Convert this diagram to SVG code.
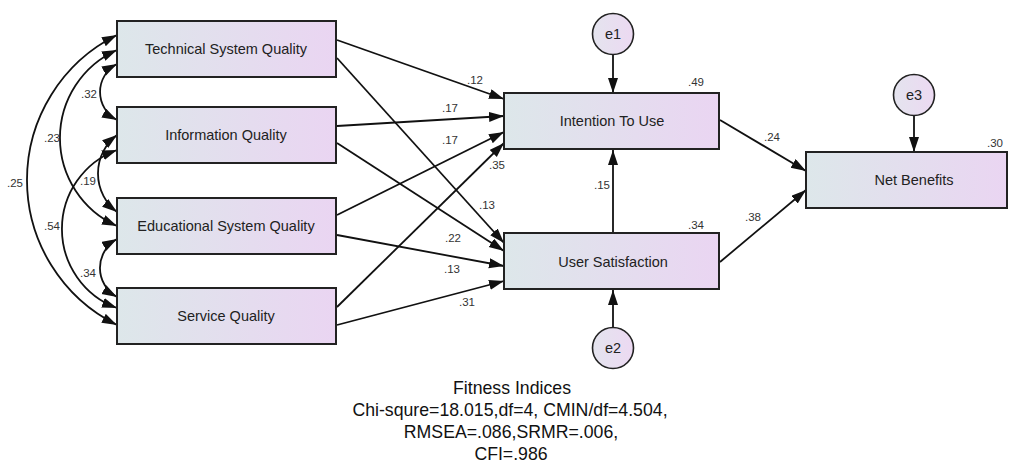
<svg xmlns="http://www.w3.org/2000/svg" width="1011" height="462" viewBox="0 0 1011 462">
  <style>
    .box { stroke: #222; stroke-width: 2; fill: url(#boxFill); }
    .err { stroke: #222; stroke-width: 1.6; fill: url(#errFill); }
    .lbl { font-family: "Liberation Sans", Arial, sans-serif; font-size: 14.5px; fill: #222; text-anchor: middle; }
    .num { font-family: "Liberation Sans", Arial, sans-serif; font-size: 11.5px; fill: #333; text-anchor: middle; }
    .fit { font-family: "Liberation Sans", Arial, sans-serif; font-size: 17.7px; fill: #111; text-anchor: middle; }
    .path { stroke: #111; stroke-width: 1.8; fill: none; marker-end: url(#head); }
    .cov { stroke: #111; stroke-width: 1.8; fill: none; marker-start: url(#head); marker-end: url(#head); }
  </style>
  <defs>
    <linearGradient id="boxFill" x1="0" y1="0" x2="1" y2="0">
      <stop offset="0" stop-color="#dde7ea"/>
      <stop offset="1" stop-color="#ead5f2"/>
    </linearGradient>
    <linearGradient id="errFill" x1="0" y1="0" x2="1" y2="0">
      <stop offset="0" stop-color="#e4e4ee"/>
      <stop offset="1" stop-color="#ecd9f2"/>
    </linearGradient>
    <marker id="head" markerUnits="userSpaceOnUse" markerWidth="17" markerHeight="11" refX="15" refY="5" orient="auto-start-reverse">
      <path d="M0,0 L15,5 L0,10 z" fill="#111"/>
    </marker>
  </defs>

  <!-- connectors -->
  <g id="connectors">
    <!-- correlations among exogenous variables -->
    <path class="cov" d="M117,64 A31.6,31.6 0 0 0 117,120"/>
    <path class="cov" d="M117,50 A96.4,96.4 0 0 0 117,226"/>
    <path class="cov" d="M117,35 A161.8,161.8 0 0 0 117,325"/>
    <path class="cov" d="M117,135 A48.5,48.5 0 0 0 117,212"/>
    <path class="cov" d="M117,150 A84.2,84.2 0 0 0 117,308"/>
    <path class="cov" d="M117,239 A33.2,33.2 0 0 0 117,297"/>

    <!-- structural paths -->
    <path class="path" d="M337,40 L504,99"/>
    <path class="path" d="M337,58 L504,243"/>
    <path class="path" d="M337,126 L504,116"/>
    <path class="path" d="M337,143 L504,251"/>
    <path class="path" d="M337,215 L504,132"/>
    <path class="path" d="M337,235 L504,266"/>
    <path class="path" d="M337,307 L504,143"/>
    <path class="path" d="M337,325 L504,281"/>
    <path class="path" d="M613,233 L613,150"/>
    <path class="path" d="M613,55 L613,93"/>
    <path class="path" d="M613,327 L613,290"/>
    <path class="path" d="M914,116 L914,152"/>
    <path class="path" d="M720,120 L806,171"/>
    <path class="path" d="M720,262 L806,190"/>

    <!-- coefficients -->
    <text class="num" x="89" y="98">.32</text>
    <text class="num" x="52" y="142">.23</text>
    <text class="num" x="15" y="187">.25</text>
    <text class="num" x="88" y="185">.19</text>
    <text class="num" x="52" y="230">.54</text>
    <text class="num" x="88" y="277">.34</text>

    <text class="num" x="475" y="84">.12</text>
    <text class="num" x="450" y="112">.17</text>
    <text class="num" x="450" y="144">.17</text>
    <text class="num" x="497" y="169">.35</text>
    <text class="num" x="487" y="209">.13</text>
    <text class="num" x="453" y="242">.22</text>
    <text class="num" x="452" y="273">.13</text>
    <text class="num" x="467" y="306">.31</text>
    <text class="num" x="602" y="189">.15</text>
    <text class="num" x="772" y="141">.24</text>
    <text class="num" x="753" y="221">.38</text>
  </g>

  <!-- exogenous constructs -->
  <g id="technical-system-quality">
    <rect class="box" x="117" y="21" width="219" height="56"/>
    <text class="lbl" x="226" y="54">Technical System Quality</text>
  </g>
  <g id="information-quality">
    <rect class="box" x="117" y="107" width="219" height="56"/>
    <text class="lbl" x="226" y="140">Information Quality</text>
  </g>
  <g id="educational-system-quality">
    <rect class="box" x="117" y="198" width="219" height="56"/>
    <text class="lbl" x="226" y="231">Educational System Quality</text>
  </g>
  <g id="service-quality">
    <rect class="box" x="117" y="288" width="219" height="56"/>
    <text class="lbl" x="226" y="321">Service Quality</text>
  </g>

  <!-- endogenous constructs -->
  <g id="intention-to-use">
    <rect class="box" x="504" y="93" width="215" height="56"/>
    <text class="lbl" x="612" y="126">Intention To Use</text>
    <text class="num" x="696" y="86">.49</text>
  </g>
  <g id="user-satisfaction">
    <rect class="box" x="504" y="233" width="215" height="56"/>
    <text class="lbl" x="613" y="267">User Satisfaction</text>
    <text class="num" x="696" y="229">.34</text>
  </g>
  <g id="net-benefits">
    <rect class="box" x="806" y="152" width="201" height="56"/>
    <text class="lbl" x="914" y="185">Net Benefits</text>
    <text class="num" x="995" y="147">.30</text>
  </g>

  <!-- error terms -->
  <g id="e1">
    <circle class="err" cx="613" cy="34" r="20.5"/>
    <text class="lbl" x="613" y="39">e1</text>
  </g>
  <g id="e2">
    <circle class="err" cx="613" cy="348" r="20.5"/>
    <text class="lbl" x="613" y="353">e2</text>
  </g>
  <g id="e3">
    <circle class="err" cx="914" cy="95" r="20.5"/>
    <text class="lbl" x="914" y="100">e3</text>
  </g>

  <!-- model fit summary -->
  <g id="fitness-indices">
    <text class="fit" x="512" y="394">Fitness Indices</text>
    <text class="fit" x="510" y="416">Chi-squre=18.015,df=4, CMIN/df=4.504,</text>
    <text class="fit" x="511" y="438">RMSEA=.086,SRMR=.006,</text>
    <text class="fit" x="511" y="460">CFI=.986</text>
  </g>
</svg>
